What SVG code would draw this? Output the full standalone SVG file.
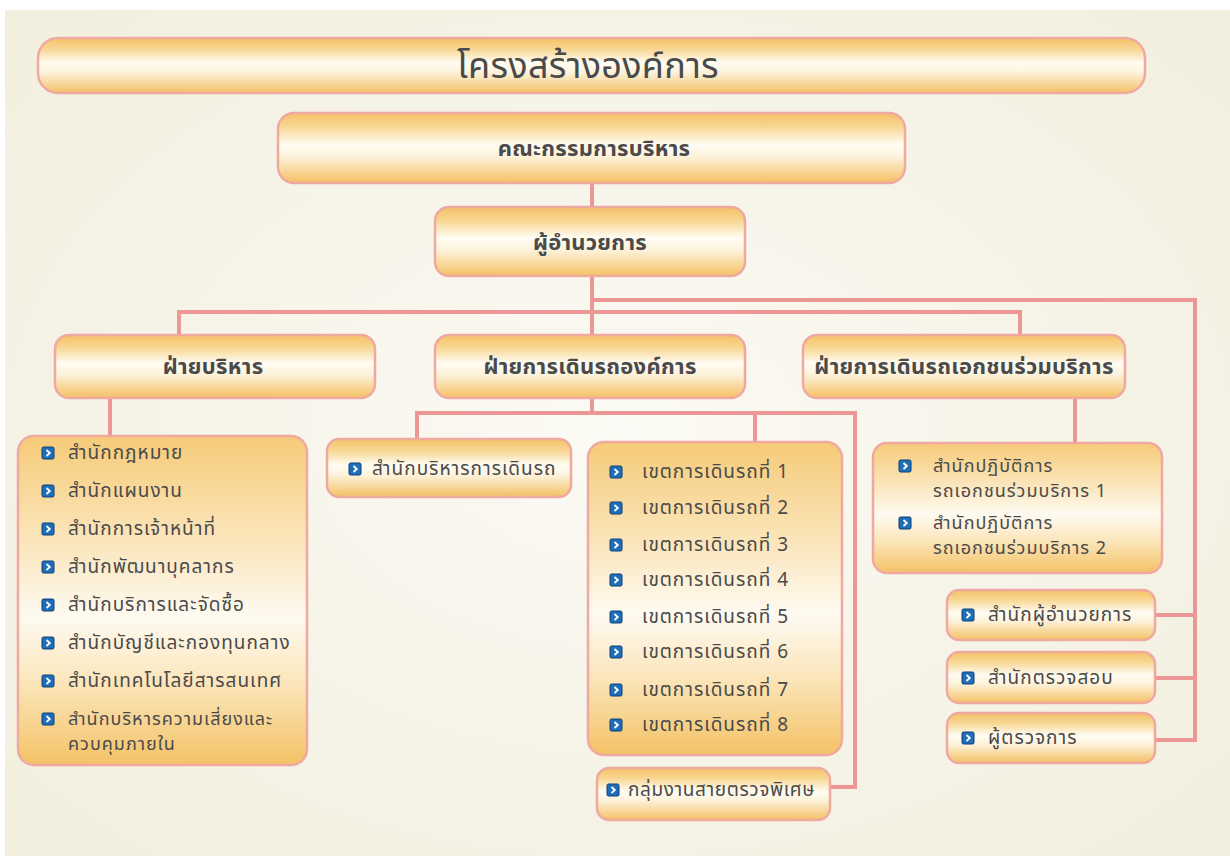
<svg xmlns="http://www.w3.org/2000/svg" width="1230" height="858" viewBox="0 0 1230 858">
<defs>
<radialGradient id="bg" cx="0.5" cy="0.5" r="0.75">
<stop offset="0" stop-color="#fbfaf4"/>
<stop offset="1" stop-color="#f1eedc"/>
</radialGradient>
<linearGradient id="hdr" x1="0" y1="0" x2="0" y2="1">
<stop offset="0" stop-color="#f4c166"/>
<stop offset="0.2" stop-color="#f8d793"/>
<stop offset="0.45" stop-color="#fffcf3"/>
<stop offset="0.62" stop-color="#fdf3dc"/>
<stop offset="1" stop-color="#f4c063"/>
</linearGradient>
<linearGradient id="lst" x1="0" y1="0" x2="0" y2="1">
<stop offset="0" stop-color="#f6cb78"/>
<stop offset="0.35" stop-color="#fbe8c2"/>
<stop offset="0.55" stop-color="#fefaf1"/>
<stop offset="0.75" stop-color="#fbe6bb"/>
<stop offset="1" stop-color="#f4c266"/>
</linearGradient>
<g id="bul">
<rect x="-6" y="-6" width="12" height="12" rx="1.5" fill="#1f6fb8" stroke="#0e3f78" stroke-width="1"/>
<path d="M-1.5,-3 L1.8,0 L-1.5,3" fill="none" stroke="#ffffff" stroke-width="1.8"/>
</g>
<style>
.box{stroke:#f0a9a0;stroke-width:2.5;fill:url(#hdr)}
.lbox{stroke:#f0a9a0;stroke-width:2.5;fill:url(#lst)}
.c{fill:none;stroke:#ec9796;stroke-width:4}
text{font-family:"Noto Sans Thai","Tahoma","Noto Sans","DejaVu Sans",sans-serif;fill:#4a4a4a}
.t{font-size:36px;letter-spacing:0.3px}
.h{font-size:22px;font-weight:bold;text-anchor:middle;letter-spacing:0.3px}
.i{font-size:19px;letter-spacing:1px}
.w{font-size:18px;letter-spacing:1px}
</style>
</defs>
<rect x="0" y="0" width="1230" height="858" fill="#ffffff"/>
<rect x="5" y="10" width="1225" height="846" fill="url(#bg)"/>

<g id="connectors">
<path class="c" d="M592,183 V207"/>
<path class="c" d="M592,276 V335"/>
<path class="c" d="M179,335 V312 H1020 V335"/>
<path class="c" d="M592,300 H1195 V740 H1155"/>
<path class="c" d="M1155,615 H1195"/>
<path class="c" d="M1155,678 H1195"/>
<path class="c" d="M110,398 V437"/>
<path class="c" d="M592,398 V413"/>
<path class="c" d="M417,439 V413 H855 V787 H830"/>
<path class="c" d="M755,413 V443"/>
<path class="c" d="M1075,398 V443"/>
</g>

<g id="title">
<rect class="box" x="38" y="38" width="1107" height="55" rx="20"/>
<text class="t" x="588" y="78" text-anchor="middle">โครงสร้างองค์การ</text>
</g>
<g id="board">
<rect class="box" x="278" y="113" width="627" height="70" rx="16"/>
<text class="h" x="594" y="156">คณะกรรมการบริหาร</text>
</g>
<g id="director">
<rect class="box" x="435" y="207" width="310" height="69" rx="14"/>
<text class="h" x="590" y="250">ผู้อำนวยการ</text>
</g>
<g id="div-admin">
<rect class="box" x="55" y="335" width="320" height="63" rx="14"/>
<text class="h" x="213" y="374">ฝ่ายบริหาร</text>
</g>
<g id="div-ops">
<rect class="box" x="435" y="335" width="310" height="63" rx="14"/>
<text class="h" x="590" y="374">ฝ่ายการเดินรถองค์การ</text>
</g>
<g id="div-private">
<rect class="box" x="803" y="335" width="322" height="63" rx="14"/>
<text class="h" x="964" y="374">ฝ่ายการเดินรถเอกชนร่วมบริการ</text>
</g>

<g id="admin-offices">
<rect class="lbox" x="18" y="436" width="289" height="329" rx="16"/>
<use href="#bul" x="48" y="453"/><text class="i" x="68" y="459">สำนักกฎหมาย</text>
<use href="#bul" x="48" y="491"/><text class="i" x="68" y="497">สำนักแผนงาน</text>
<use href="#bul" x="48" y="529"/><text class="i" x="68" y="535">สำนักการเจ้าหน้าที่</text>
<use href="#bul" x="48" y="567"/><text class="i" x="68" y="573">สำนักพัฒนาบุคลากร</text>
<use href="#bul" x="48" y="605"/><text class="i" x="68" y="611">สำนักบริการและจัดซื้อ</text>
<use href="#bul" x="48" y="643"/><text class="i" x="68" y="649">สำนักบัญชีและกองทุนกลาง</text>
<use href="#bul" x="48" y="681"/><text class="i" x="68" y="687">สำนักเทคโนโลยีสารสนเทศ</text>
<use href="#bul" x="48" y="719"/><text class="w" x="68" y="725">สำนักบริหารความเสี่ยงและ<tspan x="68" dy="25">ควบคุมภายใน</tspan></text>
</g>

<g id="ops-management">
<rect class="box" x="327" y="439" width="244" height="58" rx="12"/>
<use href="#bul" x="355" y="469"/><text class="i" x="372" y="475">สำนักบริหารการเดินรถ</text>
</g>

<g id="ops-zones">
<rect class="lbox" x="588" y="442" width="254" height="313" rx="16"/>
<use href="#bul" x="616" y="472"/><text class="i" x="642" y="478">เขตการเดินรถที่ 1</text>
<use href="#bul" x="616" y="508"/><text class="i" x="642" y="514">เขตการเดินรถที่ 2</text>
<use href="#bul" x="616" y="545"/><text class="i" x="642" y="551">เขตการเดินรถที่ 3</text>
<use href="#bul" x="616" y="580"/><text class="i" x="642" y="586">เขตการเดินรถที่ 4</text>
<use href="#bul" x="616" y="617"/><text class="i" x="642" y="623">เขตการเดินรถที่ 5</text>
<use href="#bul" x="616" y="652"/><text class="i" x="642" y="658">เขตการเดินรถที่ 6</text>
<use href="#bul" x="616" y="690"/><text class="i" x="642" y="696">เขตการเดินรถที่ 7</text>
<use href="#bul" x="616" y="725"/><text class="i" x="642" y="731">เขตการเดินรถที่ 8</text>
</g>

<g id="special-patrol">
<rect class="box" x="597" y="768" width="233" height="52" rx="12"/>
<use href="#bul" x="613" y="790"/><text class="i" x="628" y="796" style="letter-spacing:0.6px">กลุ่มงานสายตรวจพิเศษ</text>
</g>

<g id="private-offices">
<rect class="lbox" x="873" y="443" width="289" height="130" rx="14"/>
<use href="#bul" x="905" y="466"/><text class="w" x="933" y="472">สำนักปฏิบัติการ<tspan x="933" dy="25">รถเอกชนร่วมบริการ 1</tspan></text>
<use href="#bul" x="905" y="523"/><text class="w" x="933" y="529">สำนักปฏิบัติการ<tspan x="933" dy="25">รถเอกชนร่วมบริการ 2</tspan></text>
</g>

<g id="director-office">
<rect class="box" x="947" y="590" width="208" height="50" rx="12"/>
<use href="#bul" x="968" y="615"/><text class="i" x="988" y="621">สำนักผู้อำนวยการ</text>
</g>
<g id="audit-office">
<rect class="box" x="947" y="652" width="208" height="51" rx="12"/>
<use href="#bul" x="968" y="678"/><text class="i" x="988" y="684">สำนักตรวจสอบ</text>
</g>
<g id="inspector">
<rect class="box" x="947" y="713" width="208" height="50" rx="12"/>
<use href="#bul" x="968" y="738"/><text class="i" x="988" y="744">ผู้ตรวจการ</text>
</g>
</svg>
